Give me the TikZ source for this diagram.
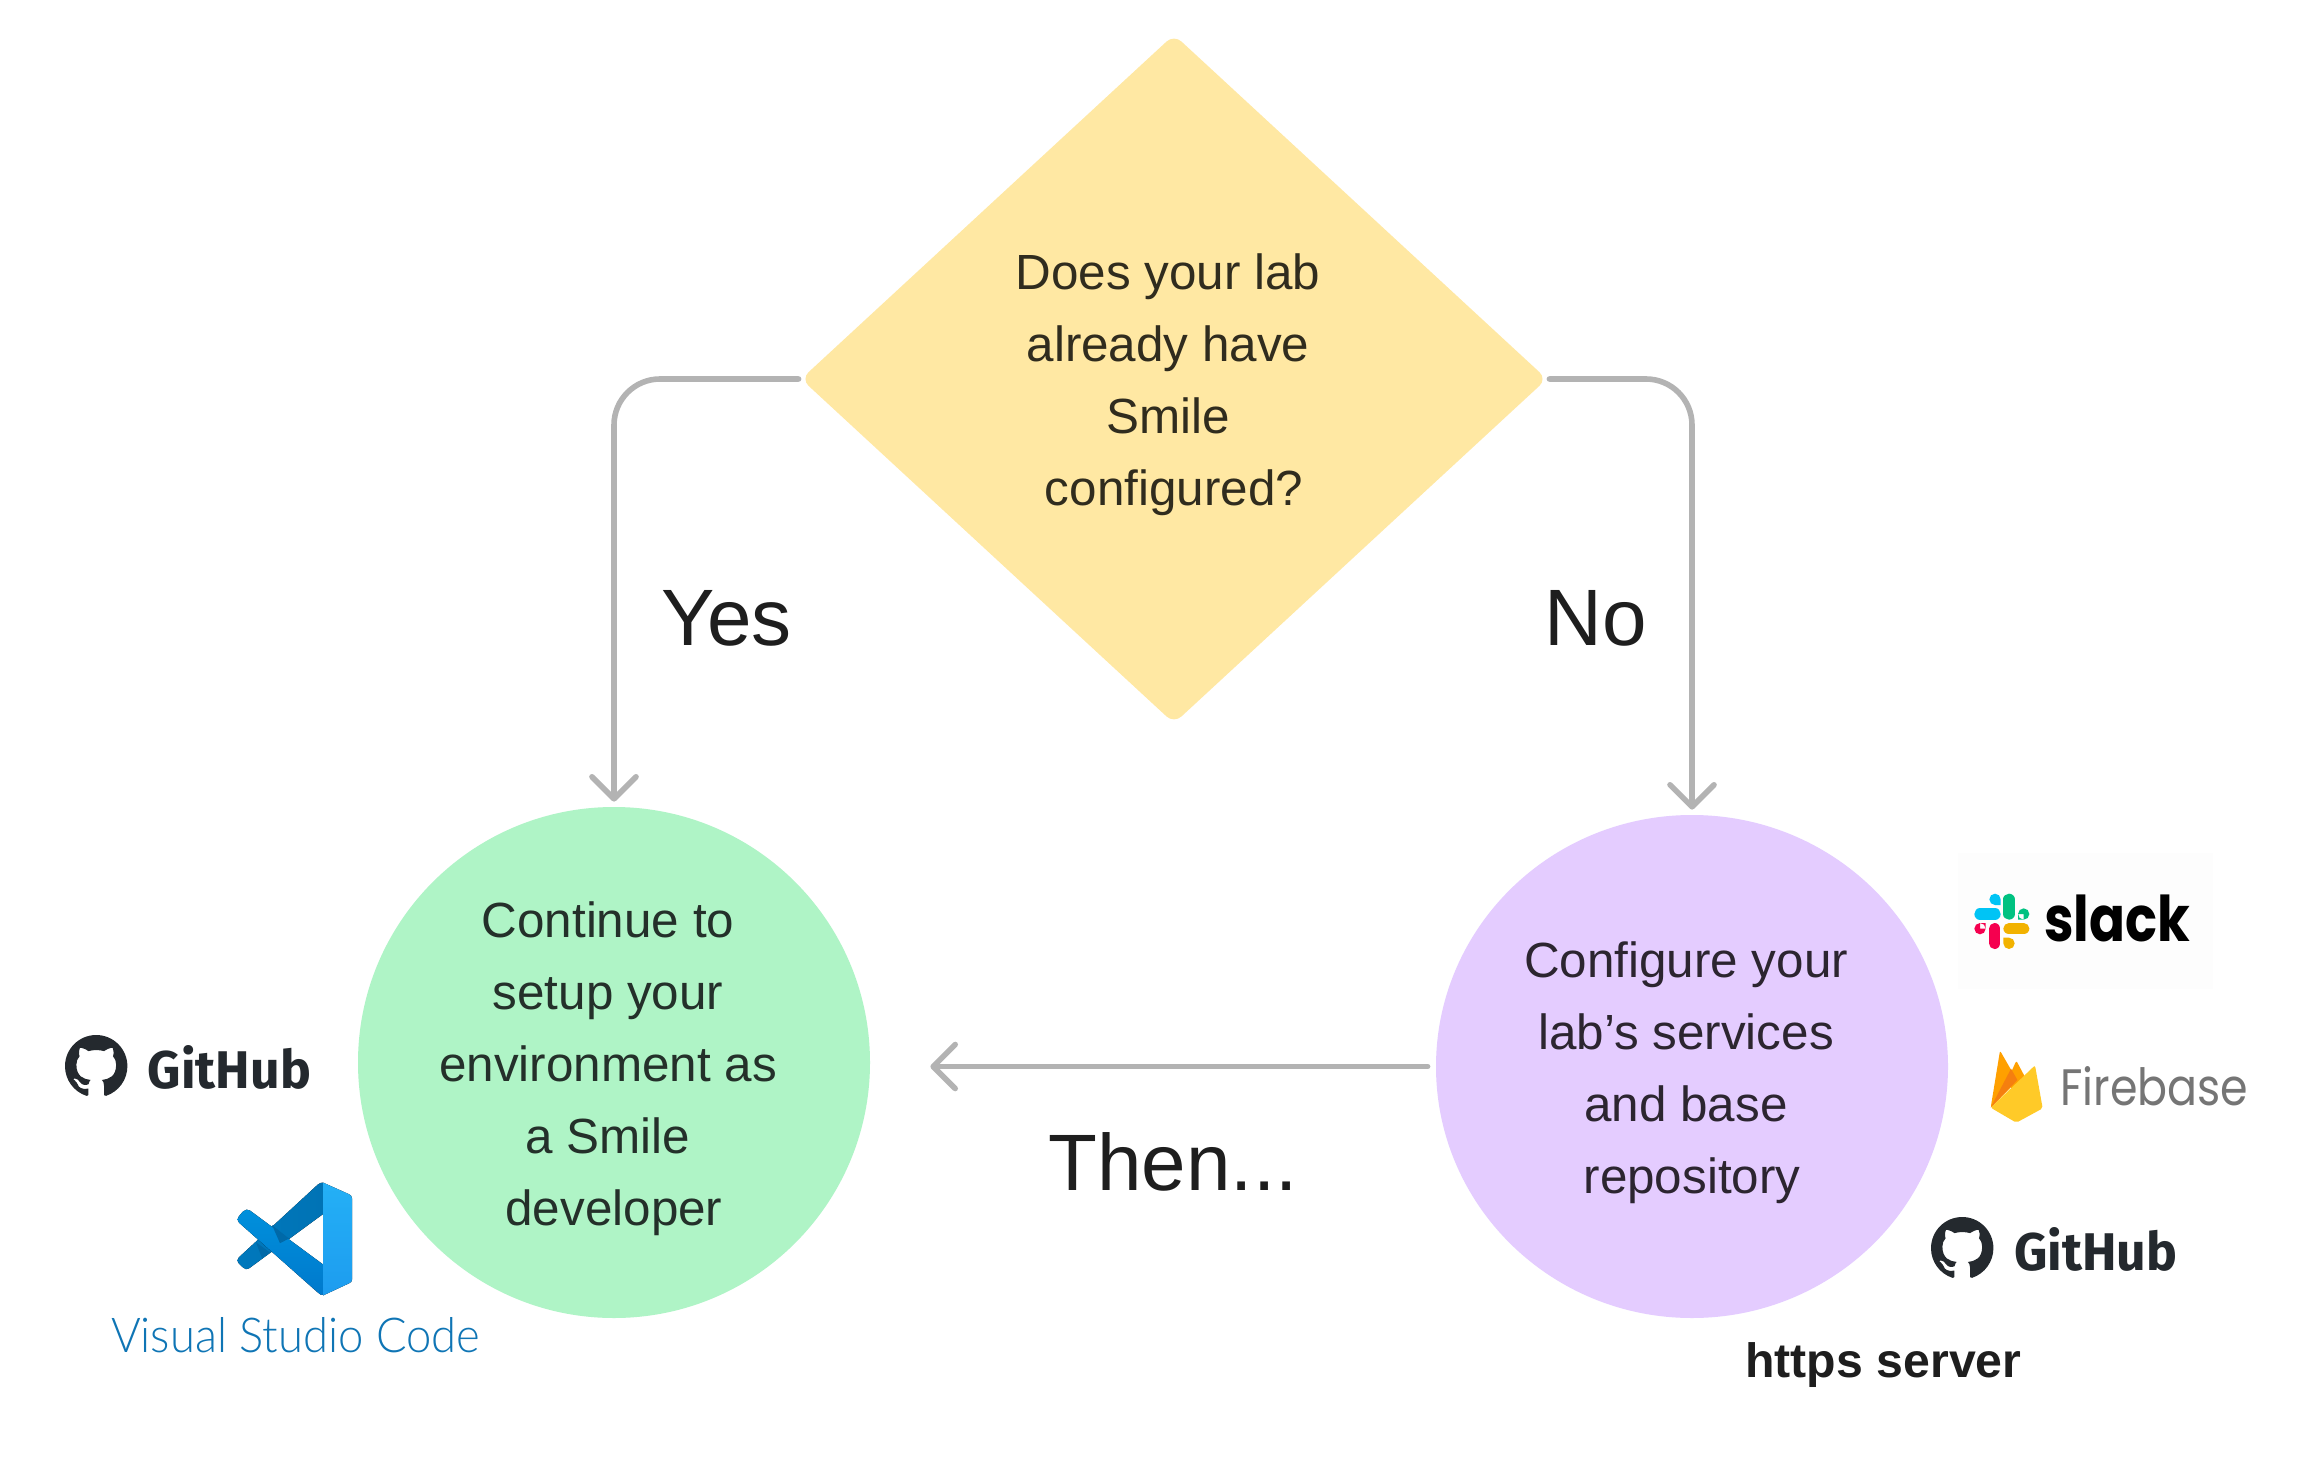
\documentclass[tikz,border=0pt]{standalone}
\usepackage{fontspec}
\setmainfont{Liberation Sans}
\newfontfamily\ghfont{Fira Sans}
\newfontfamily\slackfont{Poppins}
\newfontfamily\fbfont{Poppins}
\newfontfamily\vsfont{Lato Light}
\usetikzlibrary{shapes.geometric,arrows.meta,svg.path}
\definecolor{ink}{HTML}{1E1E1E}
\definecolor{inkd}{HTML}{302C1E}
\definecolor{inkg}{HTML}{24302A}
\definecolor{inkp}{HTML}{2C2530}
\definecolor{conn}{HTML}{B3B3B3}
\definecolor{ghdark}{HTML}{24292E}
\definecolor{diafill}{HTML}{FFE8A3}
\definecolor{greenfill}{HTML}{AFF4C6}
\definecolor{purplefill}{HTML}{E4CCFF}
\definecolor{vsarm}{HTML}{0078BC}
\definecolor{vsarmb}{HTML}{0073B5}
\definecolor{vslow}{HTML}{0090DC}
\definecolor{vslowb}{HTML}{0079CC}
\definecolor{vsshade}{HTML}{0069A8}
\definecolor{vsband}{HTML}{24B0F6}
\definecolor{vsbandb}{HTML}{1D9CEF}
\definecolor{vstext}{HTML}{0F75B5}
\definecolor{slackbg}{HTML}{FDFDFD}
\definecolor{slcyan}{HTML}{00C4F5}
\definecolor{slgreen}{HTML}{00C281}
\definecolor{slyellow}{HTML}{F2B200}
\definecolor{slred}{HTML}{F5004F}
\definecolor{fborange}{HTML}{FFA000}
\definecolor{fbdark}{HTML}{F57F0F}
\definecolor{fbyellow}{HTML}{FFCA28}
\definecolor{fbtext}{HTML}{757575}
\newcommand{\nudge}{\hbox to 6pt{\hss}}
\newcommand{\toproom}{\rule{0pt}{24pt}}
\newcommand{\ghmark}[1]{\fill[ghdark,shift={#1},xscale=1.95,yscale=-1.95] svg {M 8 0 C 3.58 0 0 3.58 0 8 c 0 3.54 2.29 6.53 5.47 7.59 0.4 0.07 0.55 -0.17 0.55 -0.38 0 -0.19 -0.01 -0.82 -0.01 -1.49 -2.01 0.37 -2.53 -0.49 -2.69 -0.94 -0.09 -0.23 -0.48 -0.94 -0.82 -1.13 -0.28 -0.15 -0.68 -0.52 -0.01 -0.53 0.63 -0.01 1.08 0.58 1.23 0.82 0.72 1.21 1.87 0.87 2.33 0.66 0.07 -0.52 0.28 -0.87 0.51 -1.07 -1.78 -0.2 -3.64 -0.89 -3.64 -3.95 0 -0.87 0.31 -1.59 0.82 -2.15 -0.08 -0.2 -0.36 -1.02 0.08 -2.12 0 0 0.67 -0.21 2.2 0.82 0.64 -0.18 1.32 -0.27 2 -0.27 0.68 0 1.36 0.09 2 0.27 1.53 -1.04 2.2 -0.82 2.2 -0.82 0.44 1.1 0.16 1.92 0.08 2.12 0.51 0.56 0.82 1.27 0.82 2.15 0 3.07 -1.87 3.75 -3.65 3.95 0.29 0.25 0.54 0.73 0.54 1.48 0 1.07 -0.01 1.93 -0.01 2.2 0 0.21 0.15 0.46 0.55 0.38 A 8.013 8.013 0 0 0 16 8 c 0 -4.42 -3.58 -8 -8 -8 z};}
\tikzset{
  x=0.5pt,y=-0.5pt,
  body/.style={align=center,inner sep=0pt,font=\fontsize{24.7}{36}\selectfont},
  decision/.style={body,text=inkd,diamond,aspect=1.08,minimum width=373pt,minimum height=344.5pt,fill=diafill,rounded corners=5pt},
  roundstep/.style={body,ellipse},
  bigword/.style={anchor=base,text=ink,inner sep=0pt,font=\fontsize{40}{46}\selectfont},
  connector/.style={draw=conn,line width=2.8pt,line cap=round,rounded corners=23pt,-{Straight Barb[length=11pt,width=22pt,round]}},
  wordmark/.style={anchor=south west,inner sep=0pt},
}
\begin{document}
\begin{tikzpicture}
\useasboundingbox[fill=white] (0,0) rectangle (2303,1466);
% main shapes
\node[decision] (q) at (1174,379) {\toproom Does your lab\nudge\\already have\nudge\\Smile\nudge\\configured?};
\node[roundstep,text=inkg,fill=greenfill,minimum width=256pt,minimum height=255.5pt] (g) at (614,1062.5) {\toproom Continue to\nudge\\setup your\nudge\\environment as\nudge\\a Smile\nudge\\developer};
\node[roundstep,text=inkp,fill=purplefill,minimum width=256pt,minimum height=251.5pt] (p) at (1692,1066.5) {\toproom Configure your\nudge\\lab’s services\nudge\\and base\nudge\\repository};
% connectors
\draw[connector] ([xshift=-1pt]q.west) -| ([yshift=2.5pt]g.north);
\draw[connector] ([xshift=1pt]q.east) -| ([yshift=2.5pt]p.north);
\draw[connector] ([xshift=-4pt]p.west) -- ([xshift=30pt]g.east |- p.west);
% labels
\node[bigword] (yes) at (726.5,645) {Yes};
\node[bigword] (no) at (1596,645) {No};
\node[bigword] (then) at (1173,1190) {Then...};
% GitHub left
\ghmark{(65,1035)}
\node[wordmark,text=ghdark] (gh1) at (147.5,1090) {\resizebox{81.5pt}{21.5pt}{\ghfont\bfseries GitHub}};
% VS Code
\begin{scope}[yshift=-32.67pt,yscale=0.93333]
\fill[left color=vsarm,right color=vsarmb] (318,1199) .. controls (322,1196) and (324,1197) .. (324,1199) -- (324,1230) -- (249,1289) .. controls (247,1290.5) and (245,1290) .. (243,1288) -- (239,1284) .. controls (237,1281) and (237,1279) .. (239,1277) -- cycle;
\fill[top color=vslow,bottom color=vslowb] (239,1240) .. controls (237,1238) and (237,1235) .. (239,1233) -- (243,1228) .. controls (245,1225.5) and (248,1225.5) .. (250,1227) -- (324,1285.5) -- (324,1317) .. controls (322,1318) and (320,1317.5) .. (318,1315) -- cycle;
\fill[vsshade] (272,1242.5) -- (289,1257) -- (280,1262) -- cycle;
\fill[vsshade] (256,1261) -- (270,1272) -- (262,1278) -- cycle;
\fill[top color=vsband,bottom color=vsbandb] (323,1197) -- (349,1209.5) .. controls (351,1210.5) and (352,1212) .. (352,1214) -- (352,1301) .. controls (352,1303) and (351,1304) .. (349,1305) -- (323,1318) -- cycle;
\end{scope}
\node[anchor=south west,inner sep=0pt,text=vstext] (vs) at (110.7,1353) {\resizebox{184.5pt}{17.5pt}{\vsfont Visual Studio Code}};
% Slack
\fill[slackbg] (1958,853) rectangle (2213,989);
\begin{scope}[shift={(1900,830)},x=0.16667pt,y=-0.16667pt]
  \draw[slcyan,line width=5.67pt,line cap=round] (240,252) -- (285,252);
  \fill[slcyan] (285,208) circle[radius=2.83pt] (285,208) rectangle (302,225);
  \draw[slgreen,line width=5.67pt,line cap=round] (327,208) -- (327,252);
  \fill[slgreen] (371,252) circle[radius=2.83pt] (371,252) rectangle (354,269);
  \draw[slyellow,line width=5.67pt,line cap=round] (327,296) -- (371,296);
  \fill[slyellow] (327,340) circle[radius=2.83pt] (327,340) rectangle (310,323);
  \draw[slred,line width=5.67pt,line cap=round] (284,296) -- (284,340);
  \fill[slred] (240,296) circle[radius=2.83pt] (240,296) rectangle (257,279);
  % Firebase
  \fill[fborange,rounded corners=1pt] (272,833) -- (300,662) -- (352,752) -- cycle;
  \fill[fborange,rounded corners=1pt] (325,745) -- (349,692) -- (385,760) -- (340,800) -- cycle;
  \fill[fbdark] (272,833) -- (333,716) -- (352,750) -- cycle;
  \fill[fbyellow,rounded corners=1pt] (272,833) -- (405,706) -- (428,835) -- (349,878) -- cycle;
\end{scope}
\node[wordmark,text=black] (sl) at (2044,942.5) {\resizebox{73pt}{23.3pt}{\slackfont\bfseries slack}};
\node[wordmark,text=fbtext] (fb) at (2060,1106.7) {\resizebox{94pt}{19.5pt}{\fbfont Firebase}};
% GitHub right
\ghmark{(1931,1217)}
\node[wordmark,text=ghdark] (gh2) at (2014,1272) {\resizebox{81.5pt}{21.5pt}{\ghfont\bfseries GitHub}};
\node[anchor=base west,inner sep=0pt,text=ink] (https) at (1745,1377) {\resizebox{138pt}{!}{\bfseries https server}};
\end{tikzpicture}
\end{document}
